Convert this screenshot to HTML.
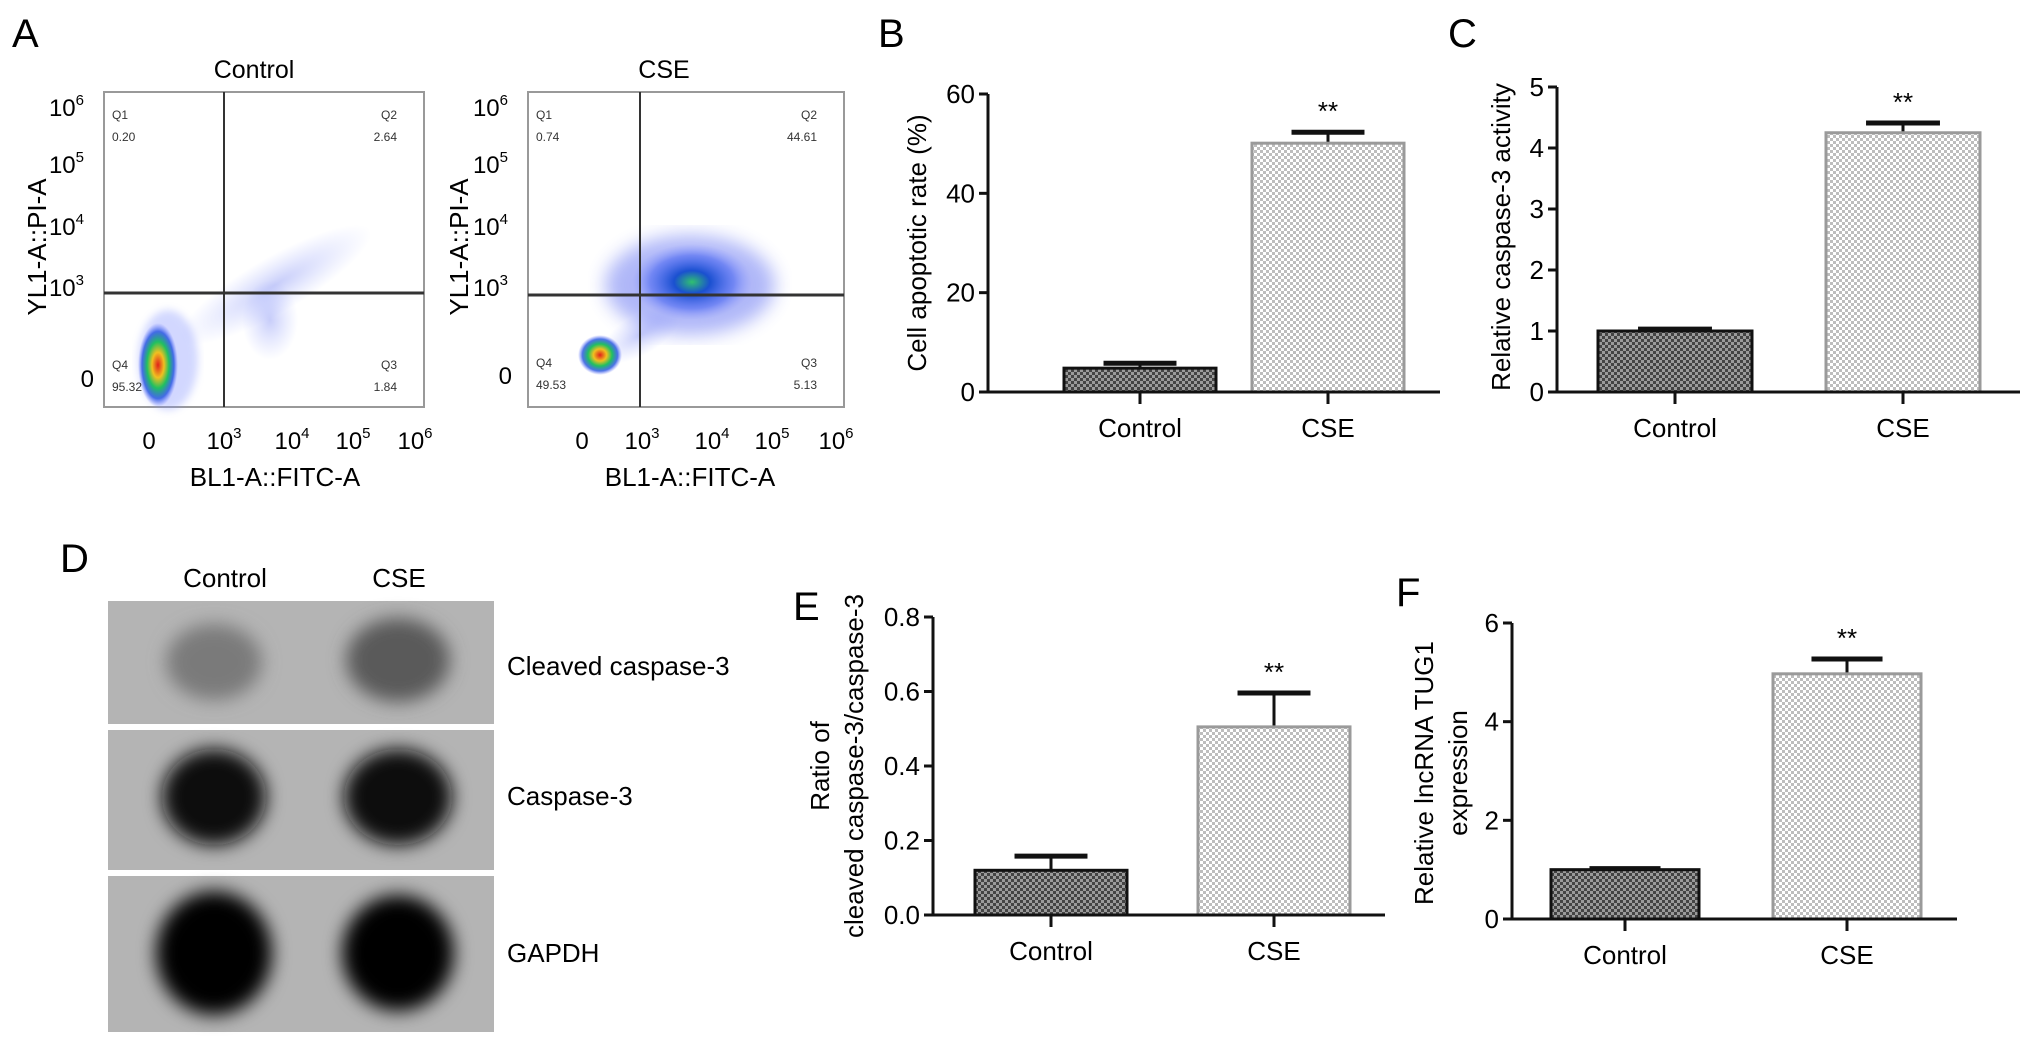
<!DOCTYPE html>
<html><head><meta charset="utf-8"><style>
html,body{margin:0;padding:0;background:#fff;}
svg{display:block;font-family:"Liberation Sans",Arial,sans-serif;}
</style></head><body>
<svg id="fig" width="2032" height="1047" viewBox="0 0 2032 1047" xmlns="http://www.w3.org/2000/svg">
<defs>
<pattern id="darkChk" width="6" height="6" patternUnits="userSpaceOnUse"><rect width="6" height="6" fill="#9a9a9a"/><rect width="3" height="3" fill="#444"/><rect x="3" y="3" width="3" height="3" fill="#444"/></pattern>
<pattern id="lightChk" width="6" height="6" patternUnits="userSpaceOnUse"><rect width="6" height="6" fill="#fff"/><rect width="3" height="3" fill="#bdbdbd"/><rect x="3" y="3" width="3" height="3" fill="#bdbdbd"/></pattern>
<radialGradient id="blobC" cx="50%" cy="50%" r="50%"><stop offset="0" stop-color="#e0201a"/><stop offset="0.3" stop-color="#f0c020"/><stop offset="0.55" stop-color="#20c060"/><stop offset="0.8" stop-color="#2050e0" stop-opacity="0.8"/><stop offset="1" stop-color="#6070ff" stop-opacity="0"/></radialGradient>
<radialGradient id="cloudG" cx="50%" cy="50%" r="50%"><stop offset="0" stop-color="#30c070"/><stop offset="0.3" stop-color="#1a50d0"/><stop offset="0.7" stop-color="#4060f0" stop-opacity="0.55"/><stop offset="1" stop-color="#8090ff" stop-opacity="0"/></radialGradient>
<radialGradient id="faint" cx="50%" cy="50%" r="50%"><stop offset="0" stop-color="#6070f0" stop-opacity="0.35"/><stop offset="1" stop-color="#8090ff" stop-opacity="0"/></radialGradient>
<filter id="blur6"><feGaussianBlur stdDeviation="9"/></filter>
<filter id="blur3"><feGaussianBlur stdDeviation="4"/></filter>
</defs>

<text x="12" y="47" font-size="40">A</text>
<text x="878" y="47" font-size="40">B</text>
<text x="1448" y="47" font-size="40">C</text>
<text x="60" y="572" font-size="40">D</text>
<text x="793" y="620" font-size="40">E</text>
<text x="1396" y="606" font-size="40">F</text>

<g>
<text x="254" y="78" font-size="25" text-anchor="middle">Control</text>
<rect x="104" y="92" width="320" height="315" fill="none" stroke="#999" stroke-width="2"/>
<ellipse cx="275" cy="285" rx="110" ry="28" transform="rotate(-30 275 285)" fill="url(#faint)"/>
<ellipse cx="270" cy="320" rx="28" ry="40" fill="url(#faint)"/>
<ellipse cx="168" cy="360" rx="30" ry="50" fill="#8090ff" opacity="0.35" filter="url(#blur3)"/>
<ellipse cx="158" cy="365" rx="20" ry="42" fill="url(#blobC)"/>
<line x1="224" y1="92" x2="224" y2="407" stroke="#333" stroke-width="2"/>
<line x1="104" y1="293" x2="424" y2="293" stroke="#333" stroke-width="3"/>
<g font-size="12" fill="#333"><text x="112" y="119">Q1</text><text x="112" y="141">0.20</text><text x="397" y="119" text-anchor="end">Q2</text><text x="397" y="141" text-anchor="end">2.64</text><text x="112" y="369">Q4</text><text x="112" y="391">95.32</text><text x="397" y="369" text-anchor="end">Q3</text><text x="397" y="391" text-anchor="end">1.84</text></g>
<g font-size="24" text-anchor="end"><text x="84" y="116">10<tspan font-size="15" dy="-11">6</tspan></text><text x="84" y="173">10<tspan font-size="15" dy="-11">5</tspan></text><text x="84" y="235">10<tspan font-size="15" dy="-11">4</tspan></text><text x="84" y="296">10<tspan font-size="15" dy="-11">3</tspan></text><text x="94" y="387">0</text></g>
<g font-size="24" text-anchor="middle"><text x="149" y="449">0</text><text x="224" y="449">10<tspan font-size="15" dy="-11">3</tspan></text><text x="292" y="449">10<tspan font-size="15" dy="-11">4</tspan></text><text x="353" y="449">10<tspan font-size="15" dy="-11">5</tspan></text><text x="415" y="449">10<tspan font-size="15" dy="-11">6</tspan></text></g>
<text x="275" y="486" font-size="26" text-anchor="middle">BL1-A::FITC-A</text>
<text transform="translate(46 247) rotate(-90)" font-size="26" text-anchor="middle">YL1-A::PI-A</text>
</g>

<g>
<text x="664" y="78" font-size="25" text-anchor="middle">CSE</text>
<rect x="528" y="92" width="316" height="315" fill="none" stroke="#999" stroke-width="2"/>
<ellipse cx="690" cy="285" rx="85" ry="50" fill="#5060f0" opacity="0.45" filter="url(#blur6)"/>
<ellipse cx="692" cy="282" rx="60" ry="38" fill="url(#cloudG)"/>
<ellipse cx="640" cy="335" rx="45" ry="20" transform="rotate(-30 640 335)" fill="url(#faint)"/>
<ellipse cx="600" cy="355" rx="22" ry="20" fill="url(#blobC)"/>
<line x1="640" y1="92" x2="640" y2="407" stroke="#333" stroke-width="2"/>
<line x1="528" y1="295" x2="844" y2="295" stroke="#333" stroke-width="3"/>
<g font-size="12" fill="#333"><text x="536" y="119">Q1</text><text x="536" y="141">0.74</text><text x="817" y="119" text-anchor="end">Q2</text><text x="817" y="141" text-anchor="end">44.61</text><text x="536" y="367">Q4</text><text x="536" y="389">49.53</text><text x="817" y="367" text-anchor="end">Q3</text><text x="817" y="389" text-anchor="end">5.13</text></g>
<g font-size="24" text-anchor="end"><text x="508" y="116">10<tspan font-size="15" dy="-11">6</tspan></text><text x="508" y="173">10<tspan font-size="15" dy="-11">5</tspan></text><text x="508" y="235">10<tspan font-size="15" dy="-11">4</tspan></text><text x="508" y="296">10<tspan font-size="15" dy="-11">3</tspan></text><text x="512" y="384">0</text></g>
<g font-size="24" text-anchor="middle"><text x="582" y="449">0</text><text x="642" y="449">10<tspan font-size="15" dy="-11">3</tspan></text><text x="712" y="449">10<tspan font-size="15" dy="-11">4</tspan></text><text x="772" y="449">10<tspan font-size="15" dy="-11">5</tspan></text><text x="836" y="449">10<tspan font-size="15" dy="-11">6</tspan></text></g>
<text x="690" y="486" font-size="26" text-anchor="middle">BL1-A::FITC-A</text>
<text transform="translate(468 247) rotate(-90)" font-size="26" text-anchor="middle">YL1-A::PI-A</text>
</g>

<g>
<text x="225" y="587" font-size="26" text-anchor="middle">Control</text>
<text x="399" y="587" font-size="26" text-anchor="middle">CSE</text>
<rect x="108" y="601" width="386" height="123" fill="#b4b4b4"/>
<rect x="108" y="730" width="386" height="140" fill="#b4b4b4"/>
<rect x="108" y="876" width="386" height="156" fill="#b4b4b4"/>
<g filter="url(#blur6)">
<ellipse cx="214" cy="662" rx="48" ry="38" fill="#7a7a7a"/>
<ellipse cx="398" cy="660" rx="52" ry="42" fill="#5a5a5a"/>
<ellipse cx="214" cy="797" rx="52" ry="48" fill="#111"/>
<ellipse cx="398" cy="797" rx="54" ry="48" fill="#111"/>
<ellipse cx="214" cy="953" rx="58" ry="62" fill="#000"/>
<ellipse cx="398" cy="953" rx="56" ry="58" fill="#050505"/>
</g>
<text x="507" y="675" font-size="26">Cleaved caspase-3</text>
<text x="507" y="805" font-size="26">Caspase-3</text>
<text x="507" y="962" font-size="26">GAPDH</text>
</g>

<g id="charts"></g>
</svg>
<script>
// Panel B
const bCategories = ["Control", "CSE"];
const bValues = [4.8, 50.1];
const bErrors = [1.0, 2.2];
const bTicks = [0, 20, 40, 60];
// Panel C
const cCategories = ["Control", "CSE"];
const cValues = [1.0, 4.25];
const cErrors = [0.03, 0.16];
const cTicks = [0, 1, 2, 3, 4, 5];
// Panel E
const eCategories = ["Control", "CSE"];
const eValues = [0.12, 0.505];
const eErrors = [0.038, 0.091];
const eTicks = [0.0, 0.2, 0.4, 0.6, 0.8];
// Panel F
const fCategories = ["Control", "CSE"];
const fValues = [1.0, 4.97];
const fErrors = [0.02, 0.3];
const fTicks = [0, 2, 4, 6];

const NS = "http://www.w3.org/2000/svg";
const root = document.getElementById("charts");
function mk(tag, attrs, parent, txt) {
  const e = document.createElementNS(NS, tag);
  for (const k in attrs) e.setAttribute(k, attrs[k]);
  if (txt !== undefined) e.textContent = txt;
  parent.appendChild(e);
  return e;
}
function drawChart(cfg, cats, vals, errs, ticks) {
  const g = mk("g", {}, root);
  
  
  const yMin = ticks[0], yMax = ticks[ticks.length - 1];
  const yS = v => cfg.y0 - (v - yMin) / (yMax - yMin) * (cfg.y0 - cfg.y1);
  const ax = mk("line", {x1: cfg.ax, y1: cfg.y1, x2: cfg.ax, y2: cfg.y0, stroke: "#111", "stroke-width": 3}, g);
  
  
  ticks.forEach(t => {
    const y = yS(t);
    mk("line", {x1: cfg.ax - 9, y1: y, x2: cfg.ax, y2: y, stroke: "#111", "stroke-width": 3}, g);
    const tl = mk("text", {x: cfg.ax - 13, y: y + 9, "font-size": 26, "text-anchor": "end"}, g, cfg.fmt(t));
    
    
  });
  cats.forEach((c, i) => {
    const x0 = cfg.bx[i], w = cfg.bw;
    const cx = x0 + w / 2;
    const top = yS(vals[i]);
    const et = yS(vals[i] + errs[i]);
    const dark = i === 0;
    const col = dark ? "#111" : "#9a9a9a";
    const eb = mk("line", {x1: cx, y1: top, x2: cx, y2: et, stroke: "#111", "stroke-width": 3}, g);
    
    
    mk("line", {x1: cx - w * 0.24, y1: et, x2: cx + w * 0.24, y2: et, stroke: "#111", "stroke-width": 5}, g);
    const r = mk("rect", {x: x0, y: top, width: w, height: cfg.y0 - top, fill: dark ? "url(#darkChk)" : "url(#lightChk)", stroke: col, "stroke-width": 3}, g);
    
    
    mk("line", {x1: cx, y1: cfg.y0, x2: cx, y2: cfg.y0 + 12, stroke: "#111", "stroke-width": 3}, g);
    const xl = mk("text", {x: cx, y: cfg.y0 + 45, "font-size": 26, "text-anchor": "middle"}, g, c);
    
    
    if (!dark) {
      const s = mk("text", {x: cx, y: et - 12, "font-size": 26, "text-anchor": "middle"}, g, "**");
      
      
    }
  });
  const base = mk("line", {x1: cfg.ax - 2, y1: cfg.y0, x2: cfg.xEnd, y2: cfg.y0, stroke: "#111", "stroke-width": 3}, g);
  
  
  const tt = mk("text", {transform: `translate(${cfg.tx} ${cfg.ty}) rotate(-90)`, "font-size": 26, "text-anchor": "middle"}, g);
  
  
  cfg.title.forEach((line, k) => {
    mk("tspan", {x: 0, dy: k === 0 ? 0 : 34}, tt, line);
  });
}
drawChart({name: "chart-b-apoptosis", ax: 988, y0: 392, y1: 94, xEnd: 1440, bx: [1064, 1252], bw: 152, fmt: v => String(v), tx: 926, ty: 243, title: ["Cell apoptotic rate (%)"]}, bCategories, bValues, bErrors, bTicks);
drawChart({name: "chart-c-caspase3-activity", ax: 1557, y0: 392, y1: 87, xEnd: 2020, bx: [1598, 1826], bw: 154, fmt: v => String(v), tx: 1510, ty: 237, title: ["Relative caspase-3 activity"]}, cCategories, cValues, cErrors, cTicks);
drawChart({name: "chart-e-cleaved-ratio", ax: 933, y0: 915, y1: 617, xEnd: 1385, bx: [975, 1198], bw: 152, fmt: v => v.toFixed(1), tx: 829, ty: 766, title: ["Ratio of", "cleaved caspase-3/caspase-3"]}, eCategories, eValues, eErrors, eTicks);
drawChart({name: "chart-f-tug1-expression", ax: 1512, y0: 919, y1: 623, xEnd: 1957, bx: [1551, 1773], bw: 148, fmt: v => String(v), tx: 1433, ty: 773, title: ["Relative lncRNA TUG1", "expression"]}, fCategories, fValues, fErrors, fTicks);
</script>
</body></html>
